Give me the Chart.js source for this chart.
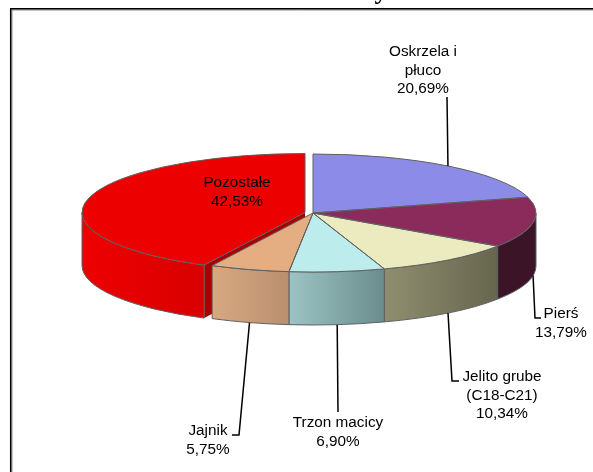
<!DOCTYPE html>
<html>
<head>
<meta charset="utf-8">
<style>
    html, body { margin: 0; background: #fff; overflow: hidden; }
    canvas { display: block; }
</style>
<script src="https://cdn.jsdelivr.net/npm/chart.js@4/dist/chart.umd.min.js"></script>
</head>
<body>
<canvas id="pieChart" width="593" height="472"></canvas>
<script>
const categories = [["Oskrzela i", "płuco"], ["Pierś"], ["Jelito grube", "(C18-C21)"], ["Trzon macicy"], ["Jajnik"], ["Pozostałe"]];
const shares = [20.69, 13.79, 10.34, 6.90, 5.75, 42.53];
const explode = [0, 0, 0, 0, 0, 8.2];

const topColors = ["#8c8ce8", "#8a2b5c", "#ecebc0", "#bcecec", "#e4ae82", "#ec0000"];
const wallLeft = ["#8c8ce8", "#3c1428", "#908e70", "#9cc4c4", "#d8a880", "#ee0000"];
const wallRight = ["#8c8ce8", "#3c1428", "#66664e", "#6a8c8c", "#b89070", "#d80000"];
const CUT_COLOR = "#a80000";
const EDGE_COLOR = "#606060";

const SQUASH = 59 / 223;
const DEPTH = 53;
const FONT = '15.3px "Liberation Sans", Arial, sans-serif';
const LINE_HEIGHT = 18.4;

// label centre (x, y of first line), then the leader bend and end; null = no leader
const labelLayout = [
    { x: 423, y: 52, leader: [[447, 97]] },
    { x: 561, y: 314, leader: [[535, 318], [541, 318]] },
    { x: 502, y: 377, leader: [[452, 381], [459, 381]] },
    { x: 338, y: 423, leader: [[338, 412]] },
    { x: 208, y: 431, leader: [[239, 435], [232, 435]] },
    { x: 237, y: 183, leader: null },
];

function formatShare(value) {
    return value.toFixed(2).replace(".", ",") + "%";
}

function arcGeometry(el, i) {
    const mid = (el.startAngle + el.endAngle) / 2;
    const shiftX = Math.cos(mid) * explode[i];
    const shiftY = Math.sin(mid) * explode[i] * SQUASH;
    return {
        x: el.x + shiftX,
        y: el.y + shiftY,
        shiftX: shiftX,
        shiftY: shiftY,
        rx: el.outerRadius,
        ry: el.outerRadius * SQUASH,
        mid: mid,
    };
}

function drawWall(ctx, el, i) {
    const g = arcGeometry(el, i);
    const a0 = Math.max(el.startAngle, 0);
    const a1 = Math.min(el.endAngle, Math.PI);
    if (a1 <= a0) return;

    const x0 = g.x + Math.cos(a0) * g.rx;
    const x1 = g.x + Math.cos(a1) * g.rx;
    const gradient = ctx.createLinearGradient(x1, 0, x0, 0);
    gradient.addColorStop(0, wallLeft[i]);
    gradient.addColorStop(1, wallRight[i]);

    ctx.beginPath();
    ctx.ellipse(g.x, g.y, g.rx, g.ry, 0, a0, a1);
    ctx.ellipse(g.x, g.y + DEPTH, g.rx, g.ry, 0, a1, a0, true);
    ctx.closePath();
    ctx.fillStyle = gradient;
    ctx.fill();
    ctx.strokeStyle = EDGE_COLOR;
    ctx.lineWidth = 1;
    ctx.stroke();
}

// the cut face of the pulled out slice shows through the gap
function drawCutFace(ctx, el, i) {
    const g = arcGeometry(el, i);
    const ex = g.x + Math.cos(el.startAngle) * g.rx;
    const ey = g.y + Math.sin(el.startAngle) * g.ry;
    ctx.beginPath();
    ctx.moveTo(g.x, g.y);
    ctx.lineTo(ex, ey);
    ctx.lineTo(ex, ey + DEPTH);
    ctx.lineTo(g.x, g.y + DEPTH);
    ctx.closePath();
    ctx.fillStyle = CUT_COLOR;
    ctx.fill();
}

// library arc, flattened and moved by its explode distance
function drawTop(ctx, el, i) {
    const g = arcGeometry(el, i);
    ctx.save();
    ctx.translate(g.shiftX, el.y + g.shiftY);
    ctx.scale(1, SQUASH);
    ctx.translate(0, -el.y);
    el.draw(ctx);
    ctx.restore();
}

function drawTopEdge(ctx, el, i) {
    const g = arcGeometry(el, i);
    ctx.beginPath();
    ctx.moveTo(g.x, g.y);
    ctx.ellipse(g.x, g.y, g.rx, g.ry, 0, el.startAngle, el.endAngle);
    ctx.closePath();
    ctx.strokeStyle = EDGE_COLOR;
    ctx.lineWidth = 1;
    ctx.stroke();
}

function drawLeader(ctx, el, i) {
    const layout = labelLayout[i];
    if (!layout.leader) return;
    const g = arcGeometry(el, i);
    const sx = g.x + Math.cos(g.mid) * g.rx;
    let sy = g.y + Math.sin(g.mid) * g.ry;
    if (Math.sin(g.mid) > 0) sy += DEPTH;
    ctx.beginPath();
    ctx.moveTo(sx, sy);
    layout.leader.forEach(p => ctx.lineTo(p[0], p[1]));
    ctx.strokeStyle = "#000";
    ctx.lineWidth = 1.5;
    ctx.stroke();
}

function drawLabel(ctx, i) {
    const lines = categories[i].concat(formatShare(shares[i]));
    const layout = labelLayout[i];
    ctx.font = FONT;
    ctx.fillStyle = "#000";
    ctx.textAlign = "center";
    ctx.textBaseline = "middle";
    lines.forEach((line, n) => ctx.fillText(line, layout.x, layout.y + n * LINE_HEIGHT));
}

function drawFrame(ctx) {
    // runs off the right and bottom of the crop
    ctx.strokeStyle = "#8c8c8c";
    ctx.lineWidth = 1;
    ctx.beginPath();
    ctx.moveTo(12, 472);
    ctx.lineTo(12, 10);
    ctx.lineTo(593, 10);
    ctx.stroke();
    ctx.strokeStyle = "#000";
    ctx.lineWidth = 1.5;
    ctx.beginPath();
    ctx.moveTo(10.7, 472);
    ctx.lineTo(10.7, 8.7);
    ctx.lineTo(593, 8.7);
    ctx.stroke();

    // tail of the cut off title
    ctx.font = 'bold 26px "Liberation Serif", serif';
    ctx.fillStyle = "#000";
    ctx.textAlign = "center";
    ctx.textBaseline = "alphabetic";
    ctx.fillText("y", 381, -1);
}

const pie3d = {
    id: "pie3d",
    beforeDatasetDraw(chart) {
        const ctx = chart.ctx;
        const arcs = chart.getDatasetMeta(0).data;

        ctx.save();
        drawCutFace(ctx, arcs[5], 5);
        arcs.forEach((el, i) => drawWall(ctx, el, i));
        arcs.forEach((el, i) => drawTop(ctx, el, i));
        arcs.forEach((el, i) => drawTopEdge(ctx, el, i));
        arcs.forEach((el, i) => drawLeader(ctx, el, i));
        arcs.forEach((el, i) => drawLabel(ctx, i));
        drawFrame(ctx);
        ctx.restore();
        return false;
    },
};

const canvas = document.getElementById("pieChart");
new Chart(canvas.getContext("2d"), {
    type: "pie",
    data: {
        labels: categories.map(c => c.join(" ")),
        datasets: [{
            data: shares,
            backgroundColor: topColors,
            borderWidth: 0,
            radius: 223,
            clip: false,
        }],
    },
    options: {
        responsive: false,
        animation: false,
        events: [],
        layout: { padding: { left: 33, right: 0, top: 0, bottom: 46 } },
        plugins: { legend: { display: false }, tooltip: { enabled: false } },
    },
    plugins: [pie3d],
});
</script>
</body>
</html>
